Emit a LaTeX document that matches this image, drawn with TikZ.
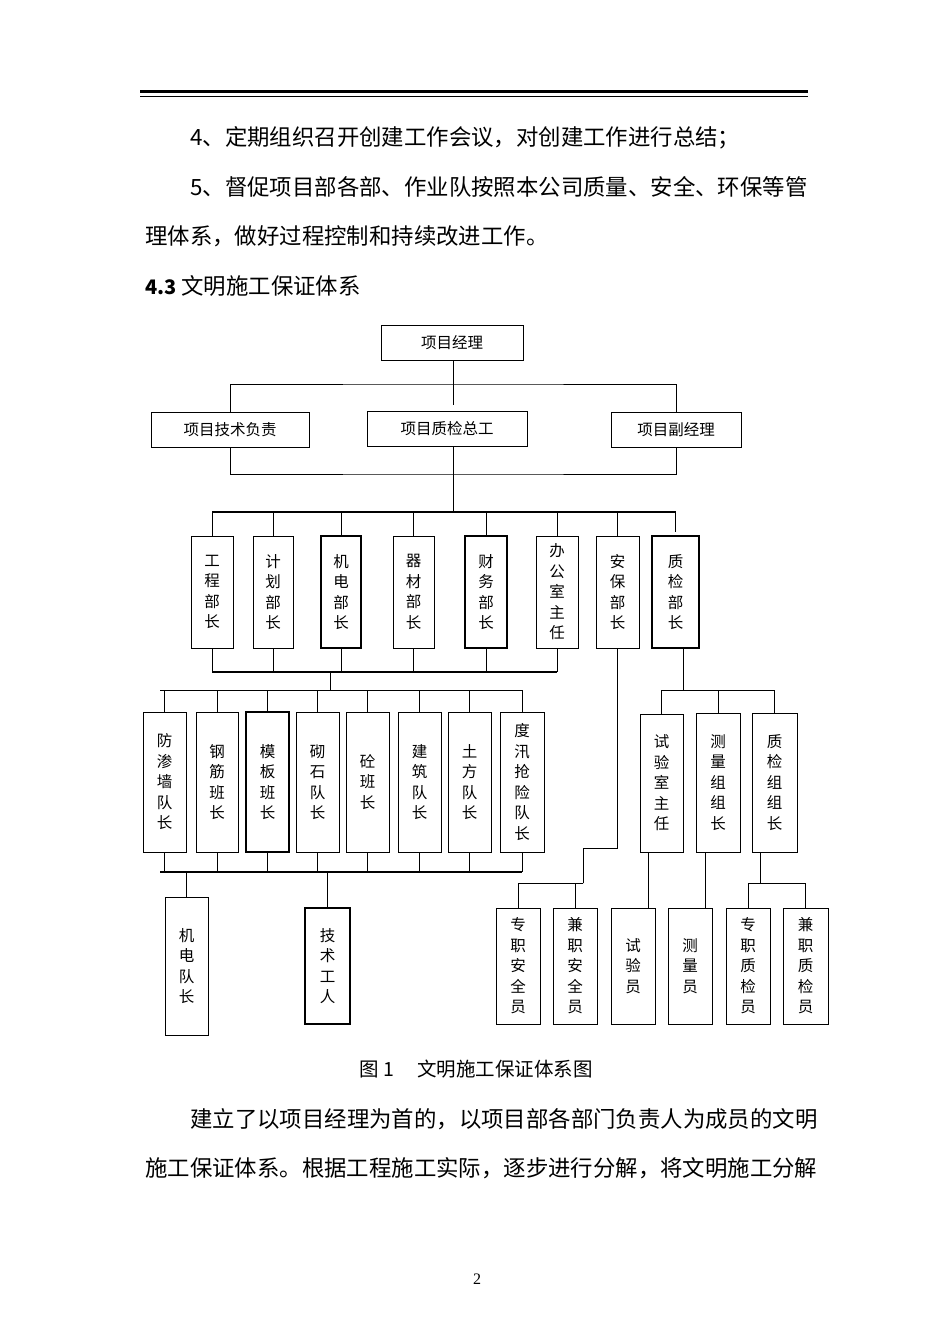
\documentclass[tikz,border=0pt]{standalone}
\usepackage{fontspec}
\setmainfont{Liberation Serif}
\newfontfamily\cjk{Noto Sans CJK SC}
\newcommand\bx[7][]{\node[bx,#1,minimum width={#4pt-#2pt},minimum height={#5pt-#3pt}] (#7) at ({(#2+#4)/2},{(#3+#5)/2}) {#6};}
\begin{document}
\begin{tikzpicture}[x=1pt,y=-1pt,
 bx/.style={draw,line width=0.9pt,inner sep=0pt,align=center,font=\cjk\fontsize{15.5}{20.5}\selectfont},
 thk/.style={line width=1.8pt},
 ln/.style={line width=0.9pt},
 body/.style={anchor=base west,inner sep=0pt,font=\cjk\fontsize{22.4}{22.4}\selectfont}]
\useasboundingbox[fill=white] (0,0) rectangle (950,1344);
\draw[line width=3pt] (140,91) -- (808,91);
\draw[line width=0.8pt] (140,96) -- (808,96);
\node[body] (t1) at (190,145) {4、定期组织召开创建工作会议，对创建工作进行总结；};
\node[body] (t2) at (190,195) {5、督促项目部各部、作业队按照本公司质量、安全、环保等管};
\node[body] (t3) at (145,244) {理体系，做好过程控制和持续改进工作。};
\node[body] (t4) at (145,294) {\textbf{\fontsize{20}{20}\selectfont 4.3} 文明施工保证体系};
% level 1-2
\bx{381}{325}{523}{360}{项目经理}{pm}
\bx{151}{412}{309}{447}{项目技术负责}{tech}
\bx{367}{411}{527}{446}{项目质检总工}{qc}
\bx{611}{412}{741}{447}{项目副经理}{vice}
\coordinate (h1) at (453,384);
\coordinate (h1e) at (453,405);
\draw[ln] (h1 |- pm.south) -- (h1e);
\draw[ln] (tech.north) |- (h1) -| (vice.north);
\coordinate (h2) at (453,474);
\draw[ln] (tech.south) |- (h2) -| (vice.south);
\coordinate (h3) at (453,512);
\draw[ln] (h3 |- qc.south) -- (h3);
% level 3
\bx{191}{536}{233}{648}{工\\程\\部\\长}{d1}
\bx{253}{536}{293}{648}{计\\划\\部\\长}{d2}
\bx[line width=1.6pt]{321}{536}{361}{648}{机\\电\\部\\长}{d3}
\bx{393}{536}{434}{648}{器\\材\\部\\长}{d4}
\bx[line width=1.6pt]{465}{536}{507}{648}{财\\务\\部\\长}{d5}
\bx{536}{536}{578}{648}{办\\公\\室\\主\\任}{d6}
\bx{596}{536}{639}{648}{安\\保\\部\\长}{d7}
\bx[line width=1.6pt]{652}{536}{699}{648}{质\\检\\部\\长}{d8}
\draw[thk] (d1.north |- h3) -- (d8.north |- h3);
\foreach \n in {d1,d2,d3,d4,d5,d6,d7}{\draw[ln] (\n.north |- h3) -- (\n.north);}
\draw[ln] (d8.north |- h3) -- ++(0,20);
\coordinate (h4) at (330,672);
\draw[thk] (d1.south |- h4) -- (d6.south |- h4);
\foreach \n in {d1,d2,d3,d4,d5,d6}{\draw[ln] (\n.south) -- (\n.south |- h4);}
\coordinate (h5) at (330,690);
\draw[ln] (h4) -- (h5);
% level 4
\bx{143}{712}{186}{852}{防\\渗\\墙\\队\\长}{e1}
\bx{196}{712}{238}{852}{钢\\筋\\班\\长}{e2}
\bx[line width=1.6pt]{246}{712}{289}{852}{模\\板\\班\\长}{e3}
\bx{296}{712}{339}{852}{砌\\石\\队\\长}{e4}
\bx{346}{712}{389}{852}{砼\\班\\长}{e5}
\bx{398}{712}{441}{852}{建\\筑\\队\\长}{e6}
\bx{448}{712}{491}{852}{土\\方\\队\\长}{e7}
\bx{500}{712}{544}{852}{度\\汛\\抢\\险\\队\\长}{e8}
\draw[ln] (160,690) -- (e8.north |- h5);
\foreach \n in {e1,e2,e3,e4,e5,e6,e7,e8}{\draw[ln] (\n.north |- h5) -- (\n.north);}
\coordinate (h6) at (160,872);
\draw[thk] (h6) -- (e8.south |- h6);
\foreach \n in {e1,e2,e3,e4,e5,e6,e7,e8}{\draw[ln] (\n.south) -- (\n.south |- h6);}
\bx{165}{897}{208}{1035}{机\\电\\队\\长}{f1}
\bx[line width=1.6pt]{305}{908}{350}{1024}{技\\术\\工\\人}{f2}
\draw[ln] (f1.north |- h6) -- (f1.north);
\draw[ln] (f2.north |- h6) -- (f2.north);
% right
\bx{640}{714}{683}{852}{试\\验\\室\\主\\任}{g1}
\bx{696}{713}{740}{852}{测\\量\\组\\组\\长}{g2}
\bx{752}{713}{797}{852}{质\\检\\组\\组\\长}{g3}
\coordinate (h7) at (683,690);
\draw[ln] (d8.south -| h7) -- (h7);
\draw[ln] (g1.north) -- (g1.north |- h7) -- (g3.north |- h7) -- (g3.north);
\draw[ln] (718,690) -- (718,713);
\bx{496}{908}{540}{1024}{专\\职\\安\\全\\员}{k1}
\bx{553}{908}{597}{1024}{兼\\职\\安\\全\\员}{k2}
\bx{611}{908}{655}{1024}{试\\验\\员}{k3}
\bx{668}{908}{712}{1024}{测\\量\\员}{k4}
\bx{726}{908}{770}{1024}{专\\职\\质\\检\\员}{k5}
\bx{783}{908}{828}{1024}{兼\\职\\质\\检\\员}{k6}
\coordinate (h8) at (583,848);
\draw[ln] (d7.south) -- (d7.south |- h8) -- (h8) -- (583,883);
\draw[ln] (k1.north) |- (583,883) -| (k2.north);
\draw[ln] (648,852) -- (648,908);
\draw[ln] (705,852) -- (705,908);
\coordinate (h9) at (760,883);
\draw[ln] (g3.south -| h9) -- (h9);
\draw[ln] (k5.north) |- (h9) -| (k6.north);
% caption and text
\node[anchor=base,inner sep=0pt,font=\cjk\fontsize{19.5}{19.5}\selectfont] (cap) at (476,1076) {图 1\hspace{1.2em}文明施工保证体系图};
\node[body] (t5) at (190,1127) {建立了以项目经理为首的，以项目部各部门负责人为成员的文明};
\node[body] (t6) at (145,1176) {施工保证体系。根据工程施工实际，逐步进行分解，将文明施工分解};
\node[anchor=base,inner sep=0pt,font=\fontsize{16}{16}\selectfont] (pg) at (477,1284) {2};
\end{tikzpicture}
\end{document}
